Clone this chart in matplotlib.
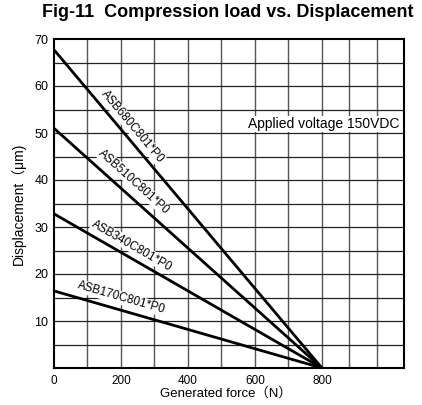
import matplotlib
matplotlib.use("Agg")
import matplotlib.pyplot as plt
import numpy as np

plt.rcParams['font.family'] = ['Liberation Sans', 'Noto Sans CJK JP', 'DejaVu Sans']

models = ['ASB680C801*P0', 'ASB510C801*P0', 'ASB340C801*P0', 'ASB170C801*P0']
disp_at_zero = [67.7, 51.0, 32.8, 16.4]
max_force = 800
label_x = [233, 239, 233, 200]
label_y = [51.3, 39.6, 26.0, 14.9]

fig = plt.figure(figsize=(4.22, 4.05), dpi=100)
ax = fig.add_axes([54 / 422, 1 - 368 / 405, 350 / 422, 329 / 405])
ax.set_xlim(0, 1045)
ax.set_ylim(0, 70)

# grid
for gx in list(range(100, 801, 100)) + [882, 964]:
    ax.axvline(gx, color='#555555', lw=1.0, zorder=1)
for gy in range(5, 70, 5):
    ax.axhline(gy, color='#222222', lw=0.9, zorder=1)

for i, m in enumerate(models):
    ax.plot([0, max_force], [disp_at_zero[i], 0], color='black', lw=2.0,
            solid_capstyle='butt', zorder=3)
    p0 = ax.transData.transform((0, disp_at_zero[i]))
    p1 = ax.transData.transform((max_force, 0))
    ang = np.degrees(np.arctan2(p1[1] - p0[1], p1[0] - p0[0]))
    ax.text(label_x[i], label_y[i], m, rotation=ang, ha='center', va='center',
            fontsize=8.5, zorder=4, rotation_mode='anchor',
            bbox=dict(facecolor='white', edgecolor='none', pad=0.5))

ax.text(1030, 51.9, 'Applied voltage 150VDC', ha='right', va='center',
        fontsize=10, zorder=4,
        bbox=dict(facecolor='white', edgecolor='none', pad=1.0))

ax.set_xticks([0, 200, 400, 600, 800])
ax.set_yticks([10, 20, 30, 40, 50, 60, 70])
ax.tick_params(length=0, labelsize=9)
ax.tick_params(axis='x', pad=5, labelsize=8.5)
ax.tick_params(axis='y', pad=4)
for s in ax.spines.values():
    s.set_linewidth(1.5)
    s.set_zorder(5)

ax.set_xlabel('Generated force（N）', fontsize=9.5, va='center')
ax.xaxis.set_label_coords(0.49, -0.078)
ax.set_ylabel('Displacement（μm)', fontsize=10, labelpad=6)
fig.suptitle('Fig-11  Compression load vs. Displacement', fontsize=13,
             fontweight='bold', x=0.54, y=0.99)

fig.savefig('out.png', dpi=100)
